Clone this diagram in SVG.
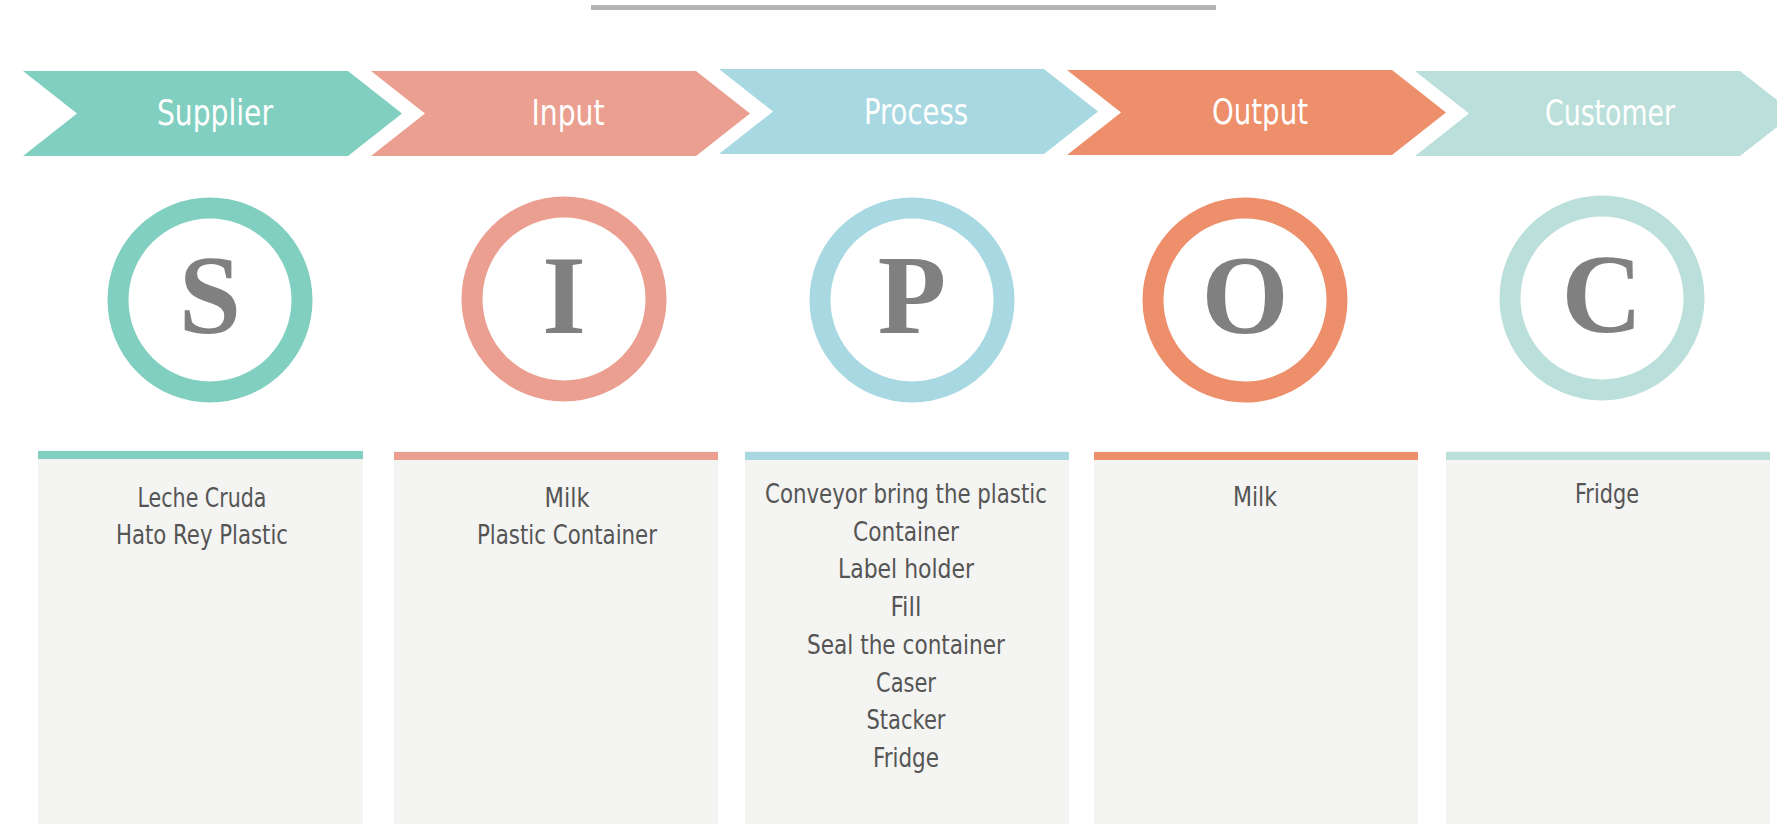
<svg xmlns="http://www.w3.org/2000/svg" width="1777" height="824" viewBox="0 0 1777 824">
<style>
.hdr{font-family:"Liberation Sans Narrow","DejaVu Sans Condensed","Liberation Sans",sans-serif;font-stretch:condensed;font-size:35px;fill:#ffffff;text-anchor:middle}
.let{font-family:"Liberation Serif","DejaVu Serif",serif;font-weight:bold;font-size:112px;fill:#808080;text-anchor:middle}
.txt{font-family:"Liberation Sans Narrow","DejaVu Sans Condensed","Liberation Sans",sans-serif;font-stretch:condensed;font-size:26px;fill:#555555;text-anchor:middle}
.box{fill:#f4f4f2}
.ring{fill:#ffffff;stroke-width:21}
</style>
<rect x="591" y="5" width="625" height="5" fill="#b3b3b3"/>
<g id="connectors"></g>
<g id="supplier">
<path d="M23,71 L348,71 L402,113.5 L348,156 L23,156 L77,113.5 Z" fill="#80cfc0"/>
<text class="hdr" x="215" y="125" textLength="116" lengthAdjust="spacingAndGlyphs">Supplier</text>
<circle class="ring" cx="210" cy="300" r="92" stroke="#80cfc0"/>
<text class="let" x="210" y="333">S</text>
<rect class="box" x="38" y="451" width="325" height="373"/>
<rect x="38" y="451" width="325" height="8" fill="#80cfc0"/>
<text class="txt" x="202" y="507" textLength="129" lengthAdjust="spacingAndGlyphs">Leche Cruda</text>
<text class="txt" x="202" y="544" textLength="172" lengthAdjust="spacingAndGlyphs">Hato Rey Plastic</text>
</g>
<g id="input">
<path d="M371,71 L696,71 L750,113.5 L696,156 L371,156 L425,113.5 Z" fill="#eb9f90"/>
<text class="hdr" x="568" y="125" textLength="73" lengthAdjust="spacingAndGlyphs">Input</text>
<circle class="ring" cx="564" cy="299" r="92" stroke="#eb9f90"/>
<text class="let" x="564" y="333">I</text>
<rect class="box" x="394" y="451" width="324" height="373"/>
<rect x="394" y="452" width="324" height="8" fill="#eb9f90"/>
<text class="txt" x="567" y="507" textLength="45" lengthAdjust="spacingAndGlyphs">Milk</text>
<text class="txt" x="567" y="544" textLength="180" lengthAdjust="spacingAndGlyphs">Plastic Container</text>
</g>
<g id="process">
<path d="M719,69 L1044,69 L1098,111.5 L1044,154 L719,154 L773,111.5 Z" fill="#a8d8e2"/>
<text class="hdr" x="916" y="124" textLength="104" lengthAdjust="spacingAndGlyphs">Process</text>
<circle class="ring" cx="912" cy="300" r="92" stroke="#a8d8e2"/>
<text class="let" x="912" y="333">P</text>
<rect class="box" x="745" y="451" width="324" height="373"/>
<rect x="745" y="452" width="324" height="8" fill="#a8d8e2"/>
<text class="txt" x="906" y="503" textLength="282" lengthAdjust="spacingAndGlyphs">Conveyor bring the plastic</text>
<text class="txt" x="906" y="540.7" textLength="106" lengthAdjust="spacingAndGlyphs">Container</text>
<text class="txt" x="906" y="578.4" textLength="136" lengthAdjust="spacingAndGlyphs">Label holder</text>
<text class="txt" x="906" y="616.1" textLength="31" lengthAdjust="spacingAndGlyphs">Fill</text>
<text class="txt" x="906" y="653.8" textLength="198" lengthAdjust="spacingAndGlyphs">Seal the container</text>
<text class="txt" x="906" y="691.5" textLength="60" lengthAdjust="spacingAndGlyphs">Caser</text>
<text class="txt" x="906" y="729.2" textLength="79" lengthAdjust="spacingAndGlyphs">Stacker</text>
<text class="txt" x="906" y="766.9" textLength="66" lengthAdjust="spacingAndGlyphs">Fridge</text>
</g>
<g id="output">
<path d="M1067,70 L1392,70 L1446,112.5 L1392,155 L1067,155 L1121,112.5 Z" fill="#ee8f6b"/>
<text class="hdr" x="1260" y="124" textLength="96" lengthAdjust="spacingAndGlyphs">Output</text>
<circle class="ring" cx="1245" cy="300" r="92" stroke="#ee8f6b"/>
<text class="let" x="1245" y="333">O</text>
<rect class="box" x="1094" y="451" width="324" height="373"/>
<rect x="1094" y="452" width="324" height="8" fill="#ee8f6b"/>
<text class="txt" x="1255" y="506" textLength="44" lengthAdjust="spacingAndGlyphs">Milk</text>
</g>
<g id="customer">
<path d="M1415,71 L1740,71 L1794,113.5 L1740,156 L1415,156 L1469,113.5 Z" fill="#bbdfda"/>
<text class="hdr" x="1610" y="125" textLength="130" lengthAdjust="spacingAndGlyphs">Customer</text>
<circle class="ring" cx="1602" cy="298" r="92" stroke="#bbdfda"/>
<text class="let" x="1602" y="332">C</text>
<rect class="box" x="1446" y="451" width="324" height="373"/>
<rect x="1446" y="452" width="324" height="8" fill="#bbdfda"/>
<text class="txt" x="1607" y="503" textLength="64" lengthAdjust="spacingAndGlyphs">Fridge</text>
</g>
</svg>
